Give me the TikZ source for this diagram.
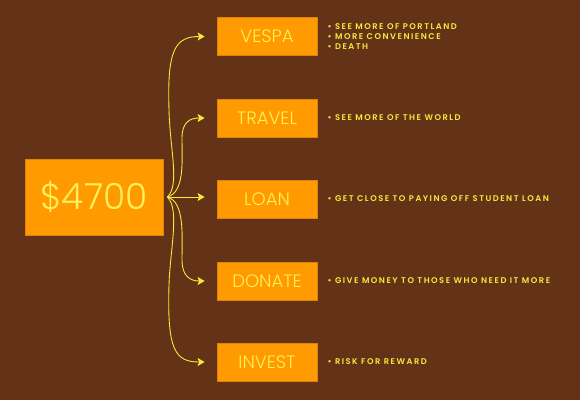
\documentclass[tikz,border=0pt]{standalone}
\usepackage{fontspec}
\setmainfont{Poppins}[UprightFont=* Light, BoldFont=* SemiBold]
\usetikzlibrary{arrows.meta,positioning,calc}
\definecolor{bgbrown}{RGB}{100,50,22}
\definecolor{boxorange}{RGB}{255,155,0}
\definecolor{boxedge}{RGB}{222,130,10}
\definecolor{lineyellow}{RGB}{245,235,60}
\definecolor{textyellow}{RGB}{255,240,90}

\begin{document}
\begin{tikzpicture}[x=1pt, y=1pt,
  choice/.style={draw=boxedge, line width=0.8pt, fill=boxorange, text=textyellow,
    minimum width=100pt, minimum height=38pt, inner sep=0pt, font=\fontsize{18}{18}\selectfont},
  note/.style={text=lineyellow, inner sep=0pt, align=left,
    font=\bfseries\fontsize{8.3}{10}\selectfont\addfontfeature{LetterSpace=18}},
  flow/.style={draw=lineyellow, line width=0.9pt, -{Stealth[length=7pt,width=8pt,inset=1.5pt]}}]

  % Background
  \fill[bgbrown] (0,0) rectangle (580,400);
  \useasboundingbox (0,0) rectangle (580,400);

  % Money box
  \node[choice, minimum width=138pt, minimum height=76pt, font=\fontsize{36}{36}\selectfont] (total) at (94,203) {\$4700};

  % Choices
  \node[choice] (vespa) at (267,363.5) {VESPA};
  \node[choice] (travel) at (267,282) {TRAVEL};
  \node[choice] (loan) at (267,201) {LOAN};
  \node[choice] (donate) at (267,119) {DONATE};
  \node[choice] (invest) at (267,38) {INVEST};

  % Notes
  \node[note, right=10pt of vespa] (vespanote) {• SEE MORE OF PORTLAND\\• MORE CONVENIENCE\\• DEATH};
  \node[note, right=10pt of travel] (travelnote) {• SEE MORE OF THE WORLD};
  \node[note, right=10pt of loan] (loannote) {• GET CLOSE TO PAYING OFF STUDENT LOAN};
  \node[note, right=10pt of donate] (donatenote) {• GIVE MONEY TO THOSE WHO NEED IT MORE};
  \node[note, right=10pt of invest] (investnote) {• RISK FOR REWARD};

  % Arrows
  \coordinate (fork) at ([xshift=4pt]total.east);
  \foreach \n in {vespa,travel,loan,donate,invest}
    \coordinate (\n-tip) at ([xshift=-12pt]\n.west);

  \draw[flow] (fork) .. controls (180,215) and (170,250) .. (169,290)
    .. controls (167,350) and (175,363.5) .. (vespa-tip);
  \draw[flow] (fork) .. controls (185,208) and (182,240) .. (182,262)
    .. controls (182,278) and (190,282) .. (travel-tip);
  \draw[flow] (fork) -- (fork -| loan-tip);
  \draw[flow] (fork) .. controls (185,198) and (182,164) .. (182,140)
    .. controls (182,124) and (190,119) .. (donate-tip);
  \draw[flow] (fork) .. controls (180,191) and (170,150) .. (169,115)
    .. controls (167,50) and (175,38) .. (invest-tip);
\end{tikzpicture}
\end{document}
